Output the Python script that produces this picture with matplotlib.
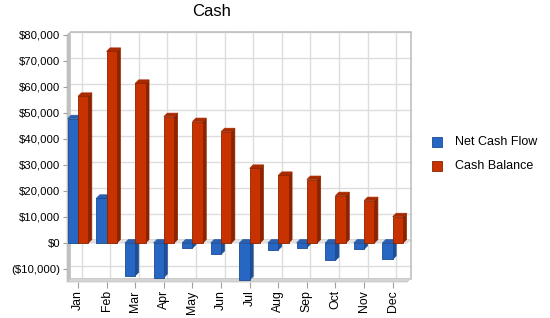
import matplotlib
matplotlib.use("Agg")
import matplotlib.pyplot as plt
from matplotlib.patches import Polygon, Rectangle
import numpy as np

months = ["Jan", "Feb", "Mar", "Apr", "May", "Jun", "Jul", "Aug", "Sep", "Oct", "Nov", "Dec"]
net_cash_flow = [47800, 17200, -12600, -13300, -2000, -4400, -14200, -2700, -1800, -6700, -2400, -6300]
cash_balance = [56400, 73700, 61400, 48600, 46700, 42800, 28700, 26000, 24400, 18200, 16300, 10100]
series_names = ["Net Cash Flow", "Cash Balance"]
yticks = list(range(-10000, 80001, 10000))

W, H = 550, 318
fig = plt.figure(figsize=(W / 100, H / 100), dpi=100)
plt.rcParams['font.family'] = ['Liberation Sans', 'DejaVu Sans']

L, R, T, B = 67, 407, 35, 282
ax = fig.add_axes([L / W, 1 - B / H, (R - L) / W, (B - T) / H])
xmin, xmax = -0.385, 11.5
ymin, ymax = -15000, 80000
ax.set_xlim(xmin, xmax)
ax.set_ylim(ymin, ymax)
for s in ax.spines.values():
    s.set_visible(False)
ax.set_facecolor("none")

pxu = (R - L) / (xmax - xmin)
pyu = (B - T) / (ymax - ymin)
d = 3.5
dx = d / pxu
dy = d / pyu

grid_c = "#dcdcdc"
wall_c = "#c0c0c0"

# back wall grid
for yv in yticks:
    ax.plot([xmin + dx, xmax + dx], [yv + dy, yv + dy], color=grid_c, lw=1, zorder=0, clip_on=False)
for i in range(len(months)):
    ax.plot([i + dx, i + dx], [ymin + dy, ymax + dy], color=grid_c, lw=1, zorder=0, clip_on=False)
# back wall border
ax.plot([xmin + dx, xmax + dx, xmax + dx], [ymax + dy, ymax + dy, ymin + dy], color=wall_c, lw=1.2, zorder=0, clip_on=False)
# left wall
ax.add_patch(Polygon([[xmin, ymin], [xmin + dx, ymin + dy], [xmin + dx, ymax + dy], [xmin, ymax]],
                     closed=True, facecolor=wall_c, edgecolor=wall_c, lw=0.5, zorder=1, clip_on=False))
# floor
ax.add_patch(Polygon([[xmin, ymin], [xmin + dx, ymin + dy], [xmax + dx, ymin + dy], [xmax, ymin]],
                     closed=True, facecolor="#d4d4d4", edgecolor=wall_c, lw=0.5, zorder=1, clip_on=False))
# zero plane
ax.add_patch(Polygon([[xmin, 0], [xmin + dx, dy], [xmax + dx, dy], [xmax, 0]],
                     closed=True, facecolor="#e4e4e4", edgecolor="#d0d0d0", lw=0.5, zorder=1, clip_on=False))

bw = 0.36
colors = [("#2866c4", "#1e4f96", "#2a5fb0", "#1a4a90"), ("#c83200", "#8c2300", "#a82a00", "#8a2400")]
for si, vals in enumerate([net_cash_flow, cash_balance]):
    front, side, top, edge = colors[si]
    for i, v in enumerate(vals):
        x0 = i - bw if si == 0 else i
        x1 = x0 + bw
        lo, hi = min(0, v), max(0, v)
        z = 3 + i * 2 + si
        ax.add_patch(Polygon([[x1, lo], [x1 + dx, lo + dy], [x1 + dx, hi + dy], [x1, hi]],
                             closed=True, facecolor=side, edgecolor=side, lw=0.5, zorder=z))
        ax.add_patch(Polygon([[x0, hi], [x0 + dx, hi + dy], [x1 + dx, hi + dy], [x1, hi]],
                             closed=True, facecolor=top, edgecolor=top, lw=0.5, zorder=z))
        ax.bar(x0, v, width=bw, align="edge", color=front, edgecolor=edge, lw=0.6, zorder=z)

ax.set_yticks(yticks)
ax.set_yticklabels([("($%s)" % format(-v, ",")) if v < 0 else "$%s" % format(v, ",") for v in yticks],
                   fontsize=8.2)
ax.set_xticks(range(len(months)))
ax.set_xticklabels(months, rotation=90, fontsize=8.8)
ax.tick_params(axis="y", length=3, color="#a0a0a0", pad=2)
ax.tick_params(axis="x", length=4, color="#a0a0a0", pad=2)

fig.text(212 / W, 1 - 12 / H, "Cash", ha="center", va="center", fontsize=12)

# legend
for k, (name, c) in enumerate(zip(series_names, [colors[0], colors[1]])):
    yc = 142 + k * 24
    fig.patches.append(Rectangle((432 / W, 1 - (yc + 5) / H), 10 / W, 10 / H, transform=fig.transFigure,
                                 facecolor=c[0], edgecolor=c[3], lw=0.6))
    fig.text(455 / W, 1 - yc / H, name, ha="left", va="center", fontsize=9)

fig.savefig("out.png", dpi=100)
